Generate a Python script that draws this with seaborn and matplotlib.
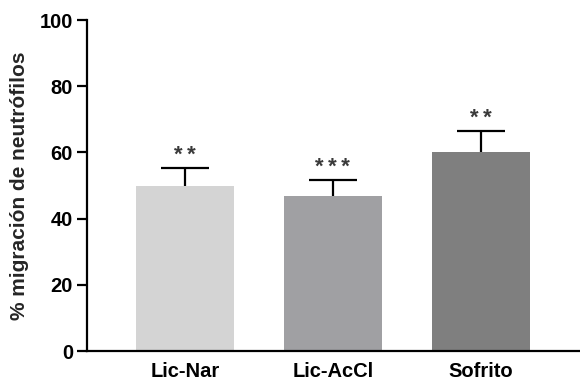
import matplotlib
matplotlib.use("Agg")
import matplotlib.pyplot as plt
import seaborn as sns
import pandas as pd

# Neutrophil migration per treatment (mean and SEM, %)
groups = ["Lic-Nar", "Lic-AcCl", "Sofrito"]
means = [50, 47, 60]
sems = [5.3, 4.7, 6.5]
stars = ["**", "***", "**"]
bar_colors = ["#d4d4d4", "#a09fa4", "#7f7f7f"]
y_ticks = [0, 20, 40, 60, 80, 100]

sns.set_theme(style="ticks")
plt.rcParams["font.family"] = ["Liberation Sans", "DejaVu Sans"]
plt.rcParams["font.weight"] = "bold"

df = pd.DataFrame({"group": groups, "mean": means})

fig = plt.figure(figsize=(5.8, 3.85), dpi=100)
ax = fig.add_axes([0.15, 0.088, 0.85, 0.86])

sns.barplot(data=df, x="group", y="mean", hue="group", palette=bar_colors,
            width=0.66, errorbar=None, legend=False, ax=ax, linewidth=0)

# upper half of the SEM bar only, with a wide cap
xpos = list(range(len(groups)))
tops = [m + s for m, s in zip(means, sems)]
cap = 0.162
ax.vlines(xpos, means, tops, colors="black", linewidth=1.6, zorder=3)
ax.hlines(tops, [x - cap for x in xpos], [x + cap for x in xpos],
          colors="black", linewidth=1.6, zorder=3)

for x, t, lab in zip(xpos, tops, stars):
    ax.text(x, t + 0.6, " ".join(lab).replace(" ", "\u2009"), ha="center",
            va="bottom", fontsize=16, fontweight="bold", color="#3a3a3a")

ax.set_ylim(0, 100)
ax.set_xlim(-0.662, 2.67)
ax.set_yticks(y_ticks)
ax.set_yticklabels([str(t) for t in y_ticks], fontsize=14.5, fontweight="bold")
ax.set_xticks(xpos)
ax.set_xticklabels(groups, fontsize=14.5, fontweight="bold")
ax.set_xlabel("")
ax.set_ylabel("% migración de neutrófilos", fontsize=15, fontweight="bold",
              labelpad=8)

ax.tick_params(axis="y", length=7, width=1.6, pad=3, colors="black")
ax.tick_params(axis="x", length=0, pad=8, colors="black")
for side in ["left", "bottom"]:
    ax.spines[side].set_linewidth(1.6)
    ax.spines[side].set_color("black")
sns.despine(ax=ax)

fig.savefig("out.png", dpi=100)
